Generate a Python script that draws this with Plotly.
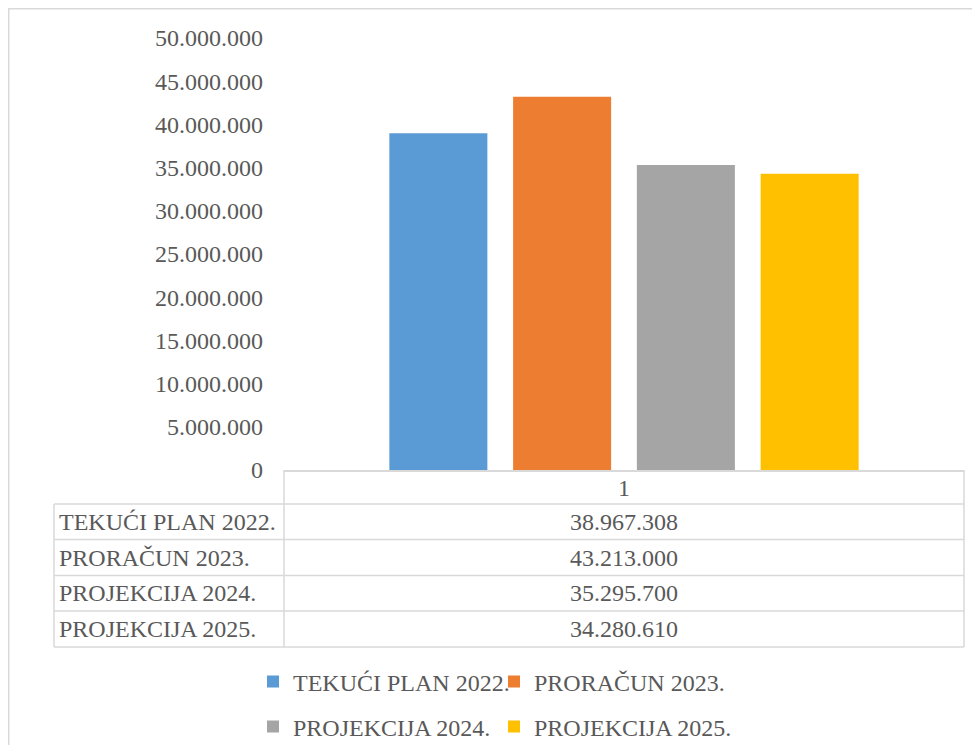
import plotly.graph_objects as go

categories = ["1"]
series_names = ["TEKUĆI PLAN 2022.", "PRORAČUN 2023.", "PROJEKCIJA 2024.", "PROJEKCIJA 2025."]
series_values = [38967308, 43213000, 35295700, 34280610]
series_colors = ["#5B9BD5", "#ED7D31", "#A5A5A5", "#FFC000"]
tick_values = [0, 5000000, 10000000, 15000000, 20000000, 25000000,
               30000000, 35000000, 40000000, 45000000, 50000000]

OFF = 8  # page body margin
W, H = 980 - 2 * OFF, 753 - 2 * OFF
L, R, T, B = 284 - OFF, 964 - OFF, 38 - OFF, 470 - OFF  # plot area in px (figure coords)
FONT = "Liberation Serif, Times New Roman, serif"
TXT = "#595959"
GRID = "#D9D9D9"
FS = 24


def px(x):
    # x given in screenshot px
    return (x - OFF - L) / (R - L)


def py(y):
    return (B - (y - OFF)) / (B - T)


fig = go.Figure()
for i, (name, val, col) in enumerate(zip(series_names, series_values, series_colors)):
    fig.add_trace(go.Bar(
        x=categories, y=[val], name=name, marker=dict(color=col, line=dict(width=0)),
        legend="legend" if i < 2 else "legend2",
    ))

shapes = []
annotations = []


def hline(x0, x1, y):
    shapes.append(dict(type="line", xref="paper", yref="paper",
                       x0=px(x0), x1=px(x1), y0=py(y), y1=py(y),
                       line=dict(color=GRID, width=1.5)))


def vline(x, y0, y1):
    shapes.append(dict(type="line", xref="paper", yref="paper",
                       x0=px(x), x1=px(x), y0=py(y0), y1=py(y1),
                       line=dict(color=GRID, width=1.5)))


# outer chart border
shapes.append(dict(type="rect", xref="paper", yref="paper",
                   x0=px(8.7), x1=px(995), y0=py(8.7), y1=py(775),
                   line=dict(color=GRID, width=1.5), fillcolor="rgba(0,0,0,0)", layer="below"))

# data table grid
row_lines = [504, 539.5, 575.5, 611, 647]
for y in row_lines:
    hline(54, 964, y)
vline(54, 504, 647)
vline(284, 470, 647)
vline(964, 470, 647)

# header cell
annotations.append(dict(xref="paper", yref="paper", x=px(624), y=py(488),
                        text=categories[0], showarrow=False, xanchor="center", yanchor="middle",
                        font=dict(family=FONT, size=FS, color=TXT)))
for i, (name, val) in enumerate(zip(series_names, series_values)):
    yc = (row_lines[i] + row_lines[i + 1]) / 2
    annotations.append(dict(xref="paper", yref="paper", x=px(57), y=py(yc),
                            text=name, showarrow=False, xanchor="left", yanchor="middle",
                            font=dict(family=FONT, size=FS, color=TXT)))
    annotations.append(dict(xref="paper", yref="paper", x=px(624), y=py(yc),
                            text=f"{val:,}".replace(",", "."), showarrow=False,
                            xanchor="center", yanchor="middle",
                            font=dict(family=FONT, size=FS, color=TXT)))

legend_common = dict(orientation="h", xanchor="left", yanchor="middle",
                     font=dict(family=FONT, size=FS, color=TXT),
                     bgcolor="rgba(0,0,0,0)", borderwidth=0,
                     entrywidthmode="pixels", entrywidth=196, itemwidth=30,
                     traceorder="normal")

fig.update_layout(
    width=W, height=H,
    margin=dict(l=L, r=W - R, t=T, b=H - B, autoexpand=False),
    paper_bgcolor="white", plot_bgcolor="white",
    separators=",.",
    barmode="group", bargap=0.272, bargroupgap=0.208,
    font=dict(family=FONT, size=FS, color=TXT),
    xaxis=dict(showticklabels=False, showgrid=False, zeroline=False,
               showline=True, linecolor=GRID, linewidth=1.5, ticks=""),
    yaxis=dict(range=[0, 50000000], tickvals=tick_values, tickformat=",d",
               showgrid=False, zeroline=False, showline=False, ticks="",
               ticklabelstandoff=20,
               tickfont=dict(family=FONT, size=FS, color=TXT)),
    legend=dict(x=px(253), y=py(682), **legend_common),
    legend2=dict(x=px(253), y=py(727), **legend_common),
    shapes=shapes, annotations=annotations,
    showlegend=True,
)

fig.write_html("out.html")
